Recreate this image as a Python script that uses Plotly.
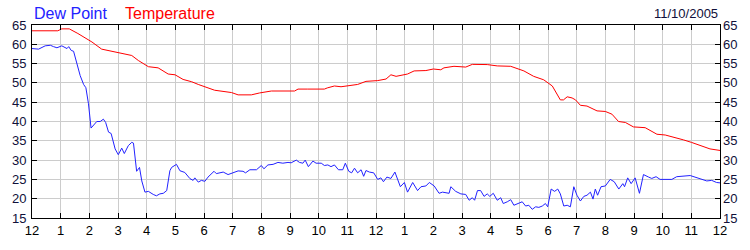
import plotly.graph_objects as go

# Time in hours since midnight (readings)
temp_hours = [0.0, 0.9, 1.04, 1.3, 1.6, 2.09, 2.43, 2.78, 3.13, 3.48, 3.71, 4.06, 4.4, 4.75,
              4.99, 5.27, 5.57, 5.8,
              6.37, 6.96, 7.19, 7.65, 7.94, 8.35, 9.16, 9.28, 9.62, 10.2, 10.3, 10.55,
              10.78, 11.0, 11.36, 11.65, 12.06, 12.35, 12.52, 12.7, 12.87, 13.1, 13.33,
              13.74, 14.0, 14.26, 14.37, 14.72, 15.13, 15.36, 15.88, 16.23, 16.7, 16.93,
              17.16, 17.5, 17.85, 18.15, 18.32, 18.43, 18.54, 18.67, 18.84, 18.96, 19.13,
              19.36, 19.71, 20.0, 20.23, 20.46, 20.7, 20.98, 21.39, 21.8, 22.09, 22.38,
              22.72, 23.0, 23.3, 23.65, 24.0]
temperature = [63.5, 63.5, 64.0, 64.0, 62.8, 60.6, 58.75, 58.2, 57.7, 57.1, 55.8, 54.2, 53.9, 52.3,
               52.1, 50.9, 50.3, 49.6,
               48.1, 47.5, 46.9, 46.9, 47.4, 47.9, 47.9, 48.4, 48.4, 48.4, 48.7, 49.2,
               49.0, 49.2, 49.6, 50.4, 50.6, 51.0, 52.1, 51.7, 51.9, 52.3, 53.1,
               53.2, 53.6, 53.4, 53.9, 54.3, 54.1, 54.8, 54.75, 54.4, 54.3, 53.8,
               53.1, 51.7, 50.8, 49.2, 47.0, 45.6, 45.6, 46.4, 46.1, 45.6, 44.2,
               44.0, 42.75, 42.6, 41.9, 40.0, 39.75, 38.6, 38.4, 36.7, 36.5, 36.0,
               35.25, 34.6, 33.75, 32.9, 32.5]

dew_hours = [0.0, 0.23, 0.46, 0.64, 0.75, 0.87, 1.04, 1.22, 1.28, 1.37, 1.45, 1.57, 1.68, 1.8,
             1.88, 1.97, 2.06, 2.26, 2.38, 2.49, 2.57, 2.67, 2.76, 2.9, 3.01, 3.13, 3.22,
             3.36, 3.48, 3.54, 3.65, 3.75, 3.83, 3.94, 4.06, 4.23, 4.34, 4.46, 4.58, 4.7,
             4.81, 4.87, 5.04, 5.16, 5.33, 5.51, 5.62, 5.68, 5.8, 5.91, 6.03, 6.14, 6.35,
             6.43, 6.67, 6.84, 7.01, 7.19, 7.36, 7.45, 7.6, 7.83, 8.0, 8.09, 8.23, 8.41,
             8.58, 8.75, 8.93, 9.04, 9.22, 9.33, 9.45, 9.53, 9.64, 9.8, 9.91, 10.09, 10.2,
             10.32, 10.43, 10.55, 10.69, 10.84, 10.93, 11.05, 11.15, 11.25, 11.36, 11.48,
             11.57, 11.65, 11.77, 11.92, 12.06, 12.17, 12.26, 12.38, 12.52, 12.66, 12.85,
             12.99, 13.1, 13.28, 13.45, 13.57, 13.74, 13.86, 14.03, 14.2, 14.32, 14.55,
             14.61, 14.78, 14.96, 15.13, 15.25, 15.36, 15.44, 15.54, 15.65, 15.77, 15.88,
             15.97, 16.09, 16.23, 16.35, 16.44, 16.58, 16.7, 16.81, 16.93, 17.1, 17.22,
             17.33, 17.45, 17.57, 17.68, 17.8, 17.91, 17.99, 18.11, 18.23, 18.34, 18.43,
             18.55, 18.67, 18.78, 18.9, 19.01, 19.13, 19.25, 19.36, 19.48, 19.57, 19.65,
             19.73, 19.85, 20.0, 20.17, 20.31, 20.47, 20.61, 20.67, 20.78, 20.9, 21.04,
             21.19, 21.33, 21.51, 21.62, 21.77, 21.91, 22.32, 22.49, 22.96, 23.19, 23.54,
             23.71, 23.88, 24.0]
dew_point = [58.9, 58.75, 59.6, 59.75, 59.4, 59.1, 59.6, 58.9, 59.4, 58.4, 58.2, 54.6, 51.9, 49.6,
             48.75, 44.6, 38.3, 40.0, 40.0, 40.6, 39.75, 37.25, 36.9, 32.9, 31.4, 33.1, 31.7,
             33.75, 34.6, 34.4, 27.1, 28.1, 24.6, 21.7, 21.9, 21.1, 20.75, 21.25, 21.4, 22.1,
             27.25, 28.1, 28.9, 27.25, 26.8, 25.2, 24.75, 25.4, 24.3, 24.75, 24.5, 25.6, 27.1,
             26.5, 26.9, 26.25, 26.7, 27.2, 27.1, 26.7, 27.5, 27.5, 28.6, 27.75, 28.75, 28.9,
             29.4, 29.2, 29.4, 29.3, 30.0, 29.4, 29.2, 30.0, 28.3, 29.75, 29.2, 29.2, 28.6,
             28.75, 28.3, 28.75, 27.5, 27.5, 29.2, 27.1, 26.7, 27.9, 26.7, 27.5,
             25.8, 27.3, 26.9, 26.7, 25.0, 25.4, 24.4, 25.6, 25.25, 26.9, 23.1,
             24.2, 21.7, 24.2, 22.1, 23.1, 23.3, 24.2, 23.3, 21.4, 21.7, 21.4,
             23.1, 21.9, 21.25, 21.1, 19.6, 20.25, 19.6, 22.1, 22.1, 20.6, 21.25,
             20.6, 21.4, 19.6, 20.25, 18.75, 19.2, 19.75, 18.3, 18.75, 19.2, 18.1,
             18.3, 17.25, 17.9, 17.75, 18.1, 18.75, 17.9, 22.5, 21.9, 22.5, 21.25,
             18.1, 18.3, 17.9, 23.1, 20.9, 19.4, 20.6, 20.9, 21.7, 19.9, 22.5,
             20.9, 23.1, 23.3, 25.0, 24.4, 22.5, 23.9, 23.1, 25.4, 23.9, 25.4,
             21.4, 26.25, 25.6, 25.25, 25.7, 25.0, 25.0, 25.7, 26.0, 25.4, 24.6,
             24.75, 24.2, 24.1]

hour_ticks = list(range(0, 25))
hour_labels = ["12"] + [str(h) for h in range(1, 12)] + ["12"] + [str(h) for h in range(1, 12)] + ["12"]
y_ticks = list(range(15, 70, 5))

series_names = ["Dew Point", "Temperature"]
series_colors = ["#2222ff", "#ff0000"]
date_label = "11/10/2005"

FONT = "Liberation Sans, Arial, sans-serif"

fig = go.Figure()
fig.add_trace(go.Scatter(x=dew_hours, y=dew_point, mode="lines", name=series_names[0],
                         line=dict(color=series_colors[0], width=1)))
fig.add_trace(go.Scatter(x=temp_hours, y=temperature, mode="lines", name=series_names[1],
                         line=dict(color=series_colors[1], width=1)))
fig.add_trace(go.Scatter(x=[0], y=[15], yaxis="y2", mode="markers",
                         marker=dict(opacity=0), showlegend=False, hoverinfo="skip"))

axis_font = dict(family=FONT, size=13, color="#10103a")

fig.update_layout(
    width=750, height=250,
    margin=dict(l=30, r=30, t=25, b=25),
    paper_bgcolor="white", plot_bgcolor="white",
    showlegend=False,
    xaxis=dict(range=[0, 24], tickvals=hour_ticks, ticktext=hour_labels,
               showgrid=True, gridcolor="#cccccc", gridwidth=1,
               showline=True, linecolor="black", linewidth=1, mirror="ticks",
               ticks="inside", ticklen=5, tickcolor="black",
               tickfont=dict(family=FONT, size=13, color="black"),
               zeroline=False),
    yaxis=dict(range=[15, 65], tickvals=y_ticks,
               showgrid=True, gridcolor="#cccccc", gridwidth=1,
               showline=True, linecolor="black", linewidth=1, mirror="ticks",
               ticks="inside", ticklen=5, tickcolor="black",
               tickfont=axis_font, zeroline=False, ticklabelstandoff=2),
    yaxis2=dict(range=[15, 65], tickvals=y_ticks, overlaying="y", side="right",
                showgrid=False, showline=False, ticks="", tickfont=axis_font,
                zeroline=False, ticklabelstandoff=2),
)
fig.add_annotation(text=series_names[0], xref="paper", yref="paper", x=0.0, y=1.0,
                   xanchor="left", yanchor="bottom", yshift=1, showarrow=False,
                   font=dict(family=FONT, size=16, color=series_colors[0]))
fig.add_annotation(text=series_names[1], xref="paper", yref="paper", x=91 / 690, y=1.0,
                   xanchor="left", yanchor="bottom", yshift=1, showarrow=False,
                   font=dict(family=FONT, size=16, color=series_colors[1]))
fig.add_annotation(text=date_label, xref="paper", yref="paper", x=1.0, y=1.0,
                   xanchor="right", yanchor="bottom", yshift=2, showarrow=False,
                   font=dict(family=FONT, size=13, color="#10103a"))

fig.write_html("out.html")
